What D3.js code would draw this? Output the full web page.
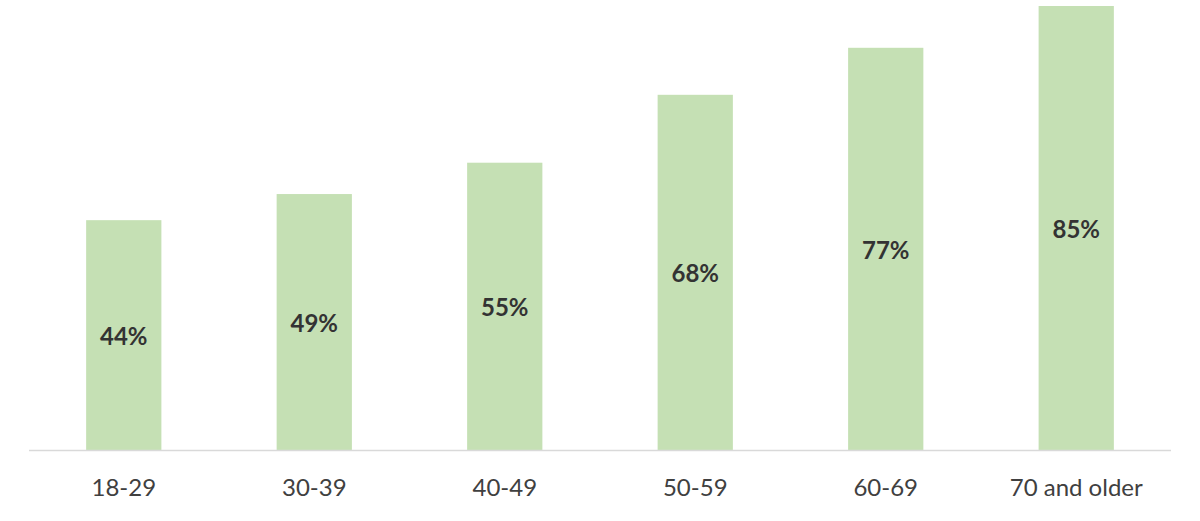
<!DOCTYPE html>
<html><head><meta charset="utf-8">
<script src="https://cdn.jsdelivr.net/npm/d3@7"></script>
<style>body{margin:0;background:#fff}svg{display:block}</style>
</head><body>
<svg id="chart" width="1200" height="521"></svg>
<script>
const categories = ["18-29","30-39","40-49","50-59","60-69","70 and older"];
const values = [44,49,55,68,77,85];

const svg = d3.select("#chart");
const x = d3.scaleBand().domain(categories).range([29,1171]).paddingInner(0.605).paddingOuter(0.3);
const y = d3.scaleLinear().domain([0,85]).range([450,6]);

svg.selectAll("rect.bar").data(values).enter().append("rect")
  .attr("class","bar")
  .attr("x",(d,i)=>x(categories[i]))
  .attr("y",d=>y(d))
  .attr("width",x.bandwidth())
  .attr("height",d=>y(0)-y(d))
  .attr("fill","#C5E0B4");

svg.append("line").attr("x1",29).attr("x2",1171).attr("y1",450.5).attr("y2",450.5)
  .attr("stroke","#d9d9d9").attr("stroke-width",1.5);

svg.selectAll("text.val").data(values).enter().append("text")
  .attr("class","val")
  .attr("x",(d,i)=>x(categories[i])+x.bandwidth()/2)
  .attr("y",d=>(y(d)+y(0))/2 + 1.5)
  .attr("dy","0.35em")
  .attr("text-anchor","middle")
  .attr("font-family","Lato, 'Open Sans', sans-serif")
  .attr("font-weight","bold")
  .attr("font-size",24)
  .attr("fill","#333")
  .text(d=>d+"%");

const xAxis = d3.axisBottom(x).tickSize(0).tickPadding(0);
const g = svg.append("g").attr("transform","translate(0,450)").call(xAxis);
g.select(".domain").remove();
g.selectAll("text")
  .attr("y",38).attr("dy","0.35em")
  .attr("font-family","Lato, 'Open Sans', sans-serif")
  .attr("font-size",24)
  .attr("fill","#404040");
</script>
</body></html>
